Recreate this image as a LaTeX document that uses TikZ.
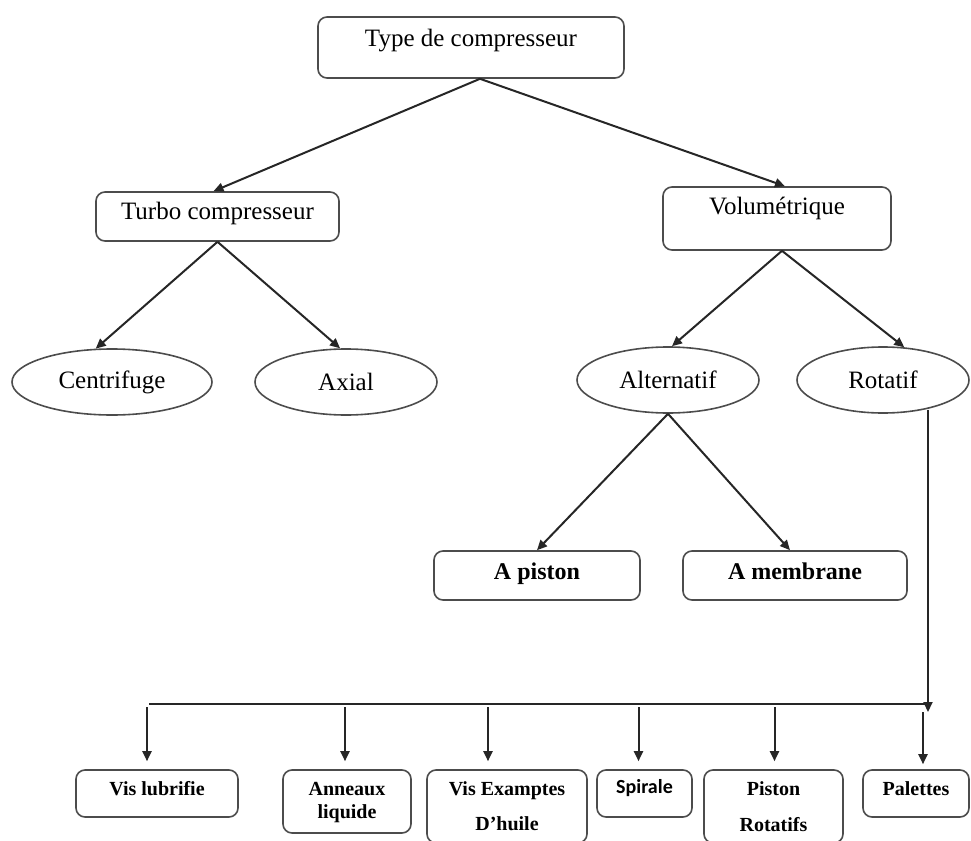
\documentclass[tikz,border=0pt]{standalone}
\usepackage{fontspec}
\setmainfont{Liberation Serif}
\newfontfamily\calibri{Carlito}
\usetikzlibrary{arrows.meta}
\usetikzlibrary{shapes.geometric}
\usetikzlibrary{calc}

\tikzset{
    box/.style={draw=black!70, line width=0.8pt, rounded corners=4.5pt, inner sep=0pt, align=center},
    oval/.style={ellipse, draw=black!70, line width=0.8pt, inner sep=0pt, minimum height=33pt, font=\fontsize{12.5}{15}\selectfont},
    big/.style={font=\fontsize{12.5}{15}\selectfont},
    bold/.style={font=\fontsize{12}{14}\selectfont\bfseries},
    small/.style={font=\fontsize{10}{11.5}\selectfont\bfseries},
    link/.style={draw=black!85, line width=1pt},
    arr/.style={link, -{Triangle[length=5pt,width=4.5pt]}},
}

\begin{document}
\begin{tikzpicture}[x=0.5pt, y=-0.5pt]

    \clip (0,0) rectangle (971,841);

    % Top levels
    \node [box, big, minimum width=153pt, text height=14.5pt, text depth=16pt] (type) at (471,47.5) {Type de compresseur};
    \node [box, big, minimum width=121.5pt, text height=13.5pt, text depth=11pt] (turbo) at (217.5,216.5) {Turbo compresseur};
    \node [box, big, minimum width=114pt, text height=13.5pt, text depth=18pt] (volum) at (777,218.5) {Volumétrique};

    % Ellipses
    \node [oval, minimum width=100pt] (centri) at (112,382) {Centrifuge};
    \node [oval, minimum width=91pt] (axial) at (346,382) {Axial};
    \node [oval, minimum width=91pt] (altern) at (668,380) {Alternatif};
    \node [oval, minimum width=86pt] (rotatif) at (883,380) {Rotatif};

    % Alternatif children
    \node [box, bold, minimum width=103pt, text height=14pt, text depth=10.5pt] (piston) at (537,575.5) {A piston};
    \node [box, bold, minimum width=112pt, text height=14pt, text depth=10.5pt] (membrane) at (795,575.5) {A membrane};

    % Rotatif children
    \node [box, small, minimum width=81pt, text height=12.5pt, text depth=11pt] (vislub) at (157,793.5) {Vis lubrifie};
    \node [box, small, minimum width=64pt, text height=24pt, text depth=7.5pt] (anneaux) at (347,801.5) {Anneaux\\liquide};
    \node [box, font=\fontsize{10}{17.5}\selectfont\bfseries, minimum width=80pt, text height=30pt, text depth=6.5pt] (visex) at (507,806.5) {Vis Examptes\\D'huile};
    \node [box, font=\fontsize{10}{12}\calibri\bfseries, minimum width=47.5pt, text height=11.5pt, text depth=12pt] (spirale) at (644.5,793.5) {Spirale};
    \node [box, font=\fontsize{10}{18}\selectfont\bfseries, minimum width=69.5pt, text height=30.5pt, text depth=6pt] (pistrot) at (773.5,806.5) {Piston\\Rotatifs};
    \node [box, small, minimum width=53pt, text height=12.5pt, text depth=11pt] (palettes) at (916,793.5) {Palettes};

    % Draw arrows
    \draw [arr] ([xshift=4.5pt]type.south) -- ([xshift=-2pt]turbo.north);
    \draw [arr] ([xshift=4.5pt]type.south) -- ([xshift=4pt]volum.north);
    \draw [arr] (turbo.south) -- (centri.116);
    \draw [arr] (turbo.south) -- (axial.100);
    \draw [arr] ([xshift=2.5pt]volum.south) -- ([xshift=2pt]altern.north);
    \draw [arr] ([xshift=2.5pt]volum.south) -- (rotatif.57);
    \draw [arr] (altern.south) -- (piston.north);
    \draw [arr] (altern.south) -- ([xshift=-2.5pt]membrane.north);

    % Bus to the bottom row
    \coordinate (busL) at (149,704);
    \coordinate (busR) at (928,704);
    \draw [link] (busL) -- (busR);
    \draw [arr, shorten >=-4pt] (busR |- rotatif.-35) -- (busR);

    \coordinate (d1) at ($(vislub.north)+(-10,0)$);
    \coordinate (d2) at ($(anneaux.north)+(-2,0)$);
    \coordinate (d3) at ($(visex.north)+(-19,0)$);
    \coordinate (d4) at ($(spirale.north)+(-6,0)$);
    \coordinate (d5) at ($(pistrot.north)+(1,0)$);
    \coordinate (d6) at ($(palettes.north)+(7,0)$);
    \draw [arr, shorten <=1.5pt, shorten >=4pt] (d1 |- busL) -- (d1);
    \draw [arr, shorten <=1.5pt, shorten >=4pt] (d2 |- busL) -- (d2);
    \draw [arr, shorten <=1.5pt, shorten >=4pt] (d3 |- busL) -- (d3);
    \draw [arr, shorten <=1.5pt, shorten >=4pt] (d4 |- busL) -- (d4);
    \draw [arr, shorten <=1.5pt, shorten >=4pt] (d5 |- busL) -- (d5);
    \draw [arr, shorten <=4pt, shorten >=2.5pt] (d6 |- busL) -- (d6);

\end{tikzpicture}
\end{document}
